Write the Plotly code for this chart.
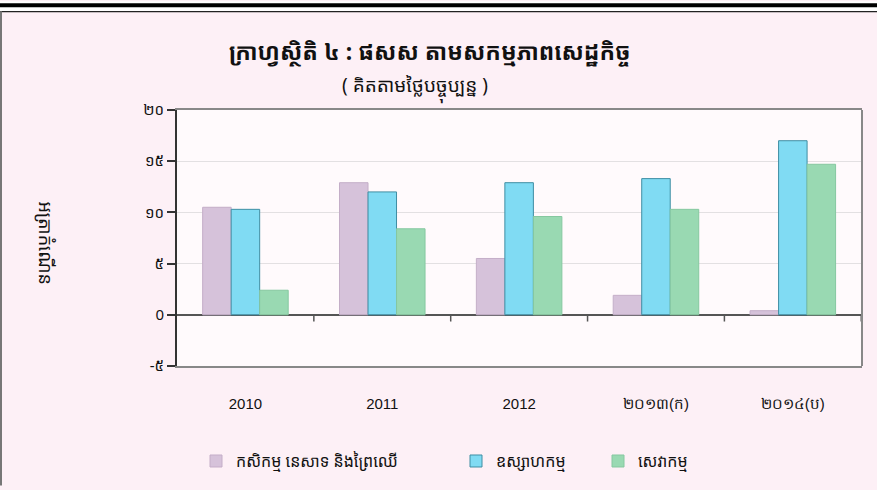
import plotly.graph_objects as go

categories = ["2010", "2011", "2012", "២០១៣(ក)", "២០១៤(ប)"]
agriculture = [10.5, 12.9, 5.5, 1.9, 0.4]
industry = [10.3, 12.0, 12.9, 13.3, 17.0]
services = [2.4, 8.4, 9.6, 10.3, 14.7]
series_names = ["កសិកម្ម នេសាទ និងព្រៃឈើ", "ឧស្សាហកម្ម", "សេវាកម្ម"]
ytick_vals = [-5, 0, 5, 10, 15, 20]
ytick_text = ["-៥", "0", "៥", "១០", "១៥", "២០"]

title_text = "ក្រាហ្វស្ថិតិ ៤ : ផសស តាមសកម្មភាពសេដ្ឋកិច្ច"
subtitle_text = "( គិតតាមថ្លៃបច្ចុប្បន្ន )"
ytitle_text = "អត្រាកំណើន"

W, H = 877, 490
L, R, T, B = 177, 862, 110, 369

def px(x):
    return (x - L) / (R - L)

def py(y):
    return (B - y) / (B - T)

fill_colors = ["#d6c2da", "#80dbf3", "#99d9b2"]
line_colors = ["#c4aec8", "#3f8ea3", "#86c8a0"]
legend_ids = ["legend", "legend2", "legend3"]
legend_marker_x = [215, 475, 617]

font_k = "Noto Sans Khmer, Khmer OS, Liberation Sans, Arial, sans-serif"

fig = go.Figure()
for name, vals, fc, lc, lid in zip(series_names, [agriculture, industry, services],
                                   fill_colors, line_colors, legend_ids):
    fig.add_trace(go.Bar(
        x=categories, y=vals, name=name, legend=lid,
        marker=dict(color=fc, line=dict(color=lc, width=1)),
    ))

def legend_cfg(mx):
    return dict(orientation="h", x=px(mx - 19), y=py(448), xanchor="left", yanchor="top",
                font=dict(size=16, color="#111", family=font_k),
                bgcolor="rgba(0,0,0,0)", itemwidth=30)

fig.update_layout(
    width=W, height=H,
    margin=dict(l=L, r=W - R, t=T, b=H - B),
    paper_bgcolor="#fdf0f6",
    plot_bgcolor="#fffafc",
    barmode="group", bargap=0.375, bargroupgap=0,
    showlegend=True,
    legend=legend_cfg(legend_marker_x[0]),
    legend2=legend_cfg(legend_marker_x[1]),
    legend3=legend_cfg(legend_marker_x[2]),
    font=dict(family=font_k, color="#111"),
    xaxis=dict(
        type="category", showgrid=False, zeroline=False,
        tickfont=dict(size=15, family="Liberation Sans, Arial, sans-serif", color="#111"),
        showline=True, linecolor="#888888", linewidth=2, mirror=True,
        ticks="", ticklabelstandoff=23,
    ),
    yaxis=dict(
        range=[-5, 20], tickvals=ytick_vals, ticktext=ytick_text,
        tickfont=dict(size=15, color="#111", family=font_k),
        showgrid=True, gridcolor="#e3e0e2", gridwidth=1,
        zeroline=True, zerolinecolor="#555555", zerolinewidth=1.5,
        showline=True, linecolor="#333333", linewidth=2,
        ticks="outside", ticklen=8, tickcolor="#333333", tickwidth=1.5,
    ),
)

shapes = []
for i in range(len(categories)):
    shapes.append(dict(type="line", xref="x", yref="paper",
                       x0=i + 0.5, x1=i + 0.5, y0=py(317), y1=py(324),
                       line=dict(color="#555555", width=1.5)))
shapes.append(dict(type="line", xref="paper", yref="paper", x0=1, x1=1, y0=0, y1=1,
                   line=dict(color="#888888", width=2)))
shapes.append(dict(type="rect", xref="paper", yref="paper", x0=px(0), x1=px(W),
                   y0=py(0), y1=py(10), fillcolor="#ffffff", line=dict(width=0), layer="below"))
shapes.append(dict(type="rect", xref="paper", yref="paper", x0=px(0), x1=px(W),
                   y0=py(2), y1=py(6), fillcolor="#000000", line=dict(width=0)))
shapes.append(dict(type="line", xref="paper", yref="paper", x0=px(0), x1=px(W),
                   y0=py(10.5), y1=py(10.5), line=dict(color="#222222", width=1.2)))
shapes.append(dict(type="line", xref="paper", yref="paper", x0=px(1), x1=px(1),
                   y0=py(10), y1=py(H), line=dict(color="#777777", width=2)))
fig.update_layout(shapes=shapes)

fig.add_annotation(text="<b>" + title_text + "</b>", xref="paper", yref="paper",
                   x=px(430), y=py(50), showarrow=False, xanchor="center", yanchor="middle",
                   font=dict(size=23, color="#111", family=font_k))
fig.add_annotation(text=subtitle_text, xref="paper", yref="paper",
                   x=px(415), y=py(88), showarrow=False, xanchor="center", yanchor="middle",
                   font=dict(size=19, color="#111", family=font_k))
fig.add_annotation(text=ytitle_text, xref="paper", yref="paper",
                   x=px(46), y=py(245), showarrow=False, xanchor="center", yanchor="middle",
                   textangle=90, font=dict(size=18, color="#111", family=font_k))

fig.write_html("out.html", config={"displayModeBar": False},
               post_script="document.body.style.margin='0';document.body.style.overflow='hidden';")
